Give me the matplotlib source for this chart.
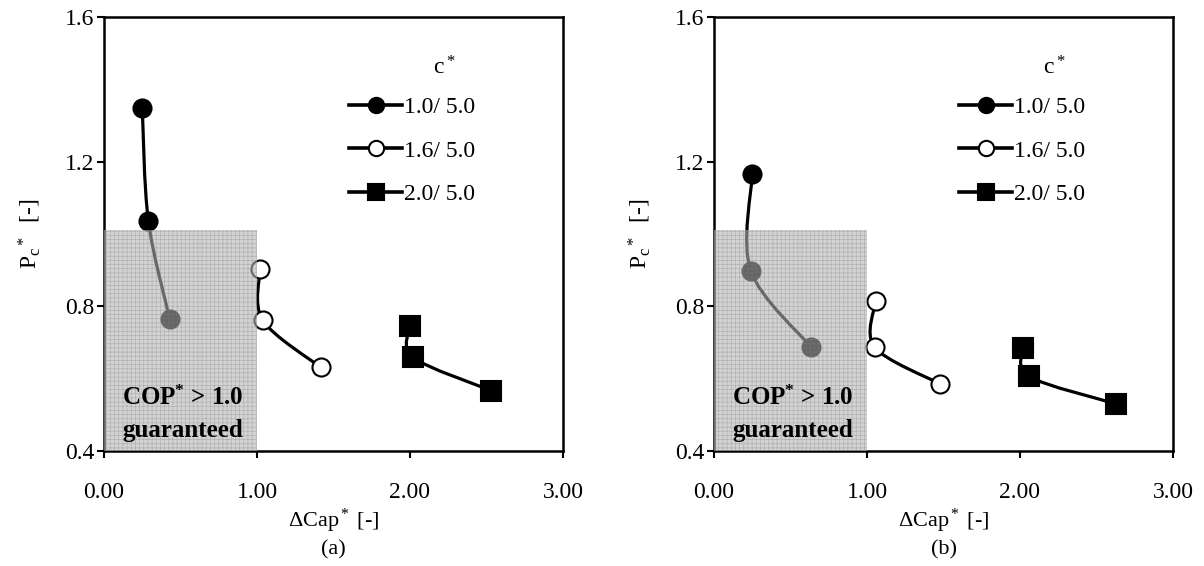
import matplotlib
matplotlib.use("Agg")
import matplotlib.pyplot as plt
import numpy as np
from matplotlib.path import Path
from matplotlib.patches import PathPatch, Rectangle
from matplotlib.lines import Line2D

plt.rcParams['font.family'] = ['Liberation Serif', 'DejaVu Serif']
plt.rcParams['mathtext.fontset'] = 'custom'
plt.rcParams['mathtext.rm'] = 'Liberation Serif'
plt.rcParams['mathtext.it'] = 'Liberation Serif:italic'
plt.rcParams['mathtext.bf'] = 'Liberation Serif:bold'
plt.rcParams['hatch.linewidth'] = 0.5

# ---- data ----
labels = ['1.0/ 5.0', '1.6/ 5.0', '2.0/ 5.0']
markers = ['o', 'o', 's']
facecols = ['black', 'white', 'black']

a_x1 = [0.25, 0.29, 0.43]
a_y1 = [1.348, 1.036, 0.764]
a_x2 = [1.02, 1.037, 1.417]
a_y2 = [0.902, 0.762, 0.631]
a_x3 = [2.00, 2.02, 2.53]
a_y3 = [0.746, 0.659, 0.567]

b_x1 = [0.25, 0.24, 0.635]
b_y1 = [1.165, 0.899, 0.687]
b_x2 = [1.056, 1.05, 1.48]
b_y2 = [0.814, 0.687, 0.585]
b_x3 = [2.02, 2.06, 2.63]
b_y3 = [0.686, 0.606, 0.530]

xticks = [0.0, 1.0, 2.0, 3.0]
yticks = [0.4, 0.8, 1.2, 1.6]
shade_x = (0.0, 1.0)
shade_y = (0.4, 1.012)

panels = [
    ('(a)', [(a_x1, a_y1), (a_x2, a_y2), (a_x3, a_y3)]),
    ('(b)', [(b_x1, b_y1), (b_x2, b_y2), (b_x3, b_y3)]),
]


def smooth_path(xs, ys):
    pts = np.column_stack([xs, ys]).astype(float)
    n = len(pts)
    verts = [pts[0]]
    codes = [Path.MOVETO]
    for i in range(n - 1):
        p0 = pts[i - 1] if i > 0 else pts[i]
        p1 = pts[i]
        p2 = pts[i + 1]
        p3 = pts[i + 2] if i + 2 < n else pts[i + 1]
        c1 = p1 + (p2 - p0) / 6.0
        c2 = p2 - (p3 - p1) / 6.0
        verts += [c1, c2, p2]
        codes += [Path.CURVE4] * 3
    return Path(verts, codes)


fig = plt.figure(figsize=(12.04, 5.66), dpi=100)
lefts = [104 / 1204, 714 / 1204]
for (tag, series), left in zip(panels, lefts):
    ax = fig.add_axes([left, 115 / 566, 459 / 1204, 434 / 566])
    handles = []
    for (xs, ys), m, fc, lab in zip(series, markers, facecols, labels):
        ax.add_patch(PathPatch(smooth_path(xs, ys), fill=False, lw=2.3,
                               edgecolor='black', zorder=2, capstyle='round'))
        ms = 13 if m == 'o' else 14
        ax.plot(xs, ys, linestyle='none', marker=m, ms=ms, mfc=fc,
                mec='black', mew=1.5, zorder=3)
        handles.append(Line2D([], [], color='black', lw=2.6, marker=m,
                              ms=11 if m == 'o' else 11.5, mfc=fc,
                              mec='black', mew=1.5, label=lab))
    ax.add_patch(Rectangle((shade_x[0], shade_y[0]), shade_x[1] - shade_x[0],
                           shade_y[1] - shade_y[0], facecolor=(0.70, 0.70, 0.70, 0.57),
                           edgecolor=(0.5, 0.5, 0.5, 0.4), lw=0, hatch='++++',
                           zorder=4))
    ax.text(0.118, 0.548, 'COP$^{\\mathbf{*}}$ > 1.0', fontsize=18,
            fontweight='bold', ha='left', va='center', zorder=5)
    ax.text(0.118, 0.458, 'guaranteed', fontsize=18, fontweight='bold',
            ha='left', va='center', zorder=5)

    ax.set_xlim(0, 3)
    ax.set_ylim(0.4, 1.6)
    ax.set_xticks(xticks)
    ax.set_xticklabels([f'{v:.2f}' for v in xticks])
    ax.set_yticks(yticks)
    ax.set_yticklabels([f'{v:.1f}' for v in yticks])
    ax.tick_params(direction='out', length=5, width=1.5, labelsize=17, pad=2)
    ax.tick_params(axis='x', pad=17)
    for s in ax.spines.values():
        s.set_linewidth(1.8)
    ax.set_xlabel('$\\Delta$Cap$^*$ [-]\n' + tag, fontsize=16,
                  labelpad=3, linespacing=1.4)
    ax.set_ylabel('P$_{\\mathrm{c}}$$^*$  [-]', fontsize=17, labelpad=16)

    ax.text(0.741, 0.882, 'c$^*$', fontsize=17, ha='center', va='center',
            transform=ax.transAxes)
    ax.legend(handles=handles, loc='upper left',
              bbox_to_anchor=(0.534, 0.816), frameon=False,
              fontsize=17, handlelength=2.25, handletextpad=0.08,
              labelspacing=0.92, borderaxespad=0, borderpad=0)

fig.savefig('out.png', dpi=100)
